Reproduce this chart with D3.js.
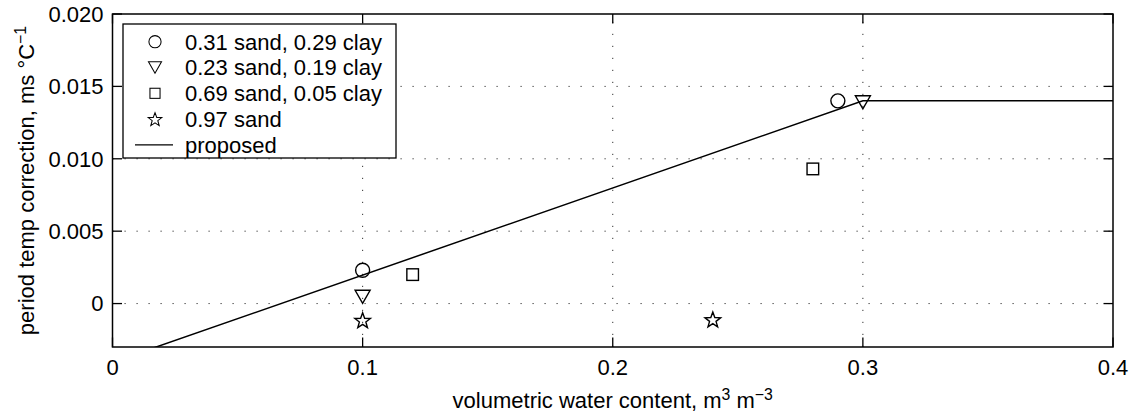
<!DOCTYPE html>
<html>
<head>
<meta charset="utf-8">
<script src="https://cdn.jsdelivr.net/npm/d3@7"></script>
<style>
  html, body { margin: 0; padding: 0; background: #fff; }
  svg { display: block; font-family: "Liberation Sans", Arial, Helvetica, sans-serif; }
</style>
</head>
<body>
<svg id="chart" width="1133" height="418"></svg>
<script>
// ---- data ----
const seriesNames = ["0.31 sand, 0.29 clay", "0.23 sand, 0.19 clay", "0.69 sand, 0.05 clay", "0.97 sand"];
const circleX = [0.10, 0.29];
const circleY = [0.0023, 0.0140];
const triangleX = [0.10, 0.30];
const triangleY = [0.00047, 0.0139];
const squareX = [0.12, 0.28];
const squareY = [0.0020, 0.0093];
const starX = [0.10, 0.24];
const starY = [-0.00115, -0.0011];
const proposedName = "proposed";
const proposedX = [0.0, 0.30, 0.40];
const proposedY = [-0.00405, 0.0140, 0.0140];
const xTicks = [0, 0.1, 0.2, 0.3, 0.4];
const xTickLabels = ["0", "0.1", "0.2", "0.3", "0.4"];
const yTicks = [0, 0.005, 0.010, 0.015, 0.020];
const yTickLabels = ["0", "0.005", "0.010", "0.015", "0.020"];

// ---- layout ----
const L = 112.5, R = 1113, T = 14, B = 347;
const svg = d3.select("#chart");
const x = d3.scaleLinear().domain([0, 0.4]).range([L, R]);
const y = d3.scaleLinear().domain([-0.003, 0.020]).range([B, T]);
const tickFont = 22, labFont = 22;

// grid (dotted)
const grid = svg.append("g");
grid.selectAll("line.gx").data(xTicks.slice(1, -1)).join("line")
  .attr("x1", d => x(d)).attr("x2", d => x(d)).attr("y1", B).attr("y2", T)
  .attr("stroke", "#333").attr("stroke-width", 1).attr("stroke-dasharray", "1.2,10.8");
grid.selectAll("line.gy").data(yTicks.slice(0, -1)).join("line")
  .attr("y1", d => y(d)).attr("y2", d => y(d)).attr("x1", L).attr("x2", R)
  .attr("stroke", "#333").attr("stroke-width", 1).attr("stroke-dasharray", "1.2,10.8");

// clip
svg.append("clipPath").attr("id", "clip").append("rect")
  .attr("x", L).attr("y", T).attr("width", R - L).attr("height", B - T);

// proposed line
const lineGen = d3.line().x(d => x(d[0])).y(d => y(d[1]));
svg.append("path").attr("clip-path", "url(#clip)")
  .datum(proposedX.map((v, i) => [v, proposedY[i]]))
  .attr("d", lineGen).attr("fill", "none").attr("stroke", "#000").attr("stroke-width", 1.5);

// marker shapes
const markers = {
  circle: (g) => g.append("circle").attr("r", 7),
  triangle: (g) => g.append("path").attr("d", "M-7.5,-6.5 L7.5,-6.5 L0,6.5 Z"),
  square: (g) => g.append("rect").attr("x", -5.8).attr("y", -5.8).attr("width", 11.6).attr("height", 11.6),
  star: (g) => {
    const pts = [];
    const ro = 8.2, ri = 3.4;
    for (let k = 0; k < 10; k++) {
      const a = -Math.PI / 2 + k * Math.PI / 5;
      const r = k % 2 === 0 ? ro : ri;
      pts.push([r * Math.cos(a), r * Math.sin(a) + 0.8]);
    }
    return g.append("path").attr("d", "M" + pts.map(p => p.join(",")).join("L") + "Z");
  }
};
const seriesDefs = [
  { name: seriesNames[0], xs: circleX, ys: circleY, m: "circle" },
  { name: seriesNames[1], xs: triangleX, ys: triangleY, m: "triangle" },
  { name: seriesNames[2], xs: squareX, ys: squareY, m: "square" },
  { name: seriesNames[3], xs: starX, ys: starY, m: "star" }
];
const mg = svg.append("g");
seriesDefs.forEach(s => {
  s.xs.forEach((xv, i) => {
    const g = mg.append("g").attr("transform", `translate(${x(xv)},${y(s.ys[i])})`);
    markers[s.m](g).attr("fill", "none").attr("stroke", "#000").attr("stroke-width", 1.4);
  });
});

// box
svg.append("rect").attr("x", L).attr("y", T).attr("width", R - L).attr("height", B - T)
  .attr("fill", "none").attr("stroke", "#000").attr("stroke-width", 1.5);

// ticks inward on all four sides
const tl = 9.5;
const tk = svg.append("g").attr("stroke", "#000").attr("stroke-width", 1.3);
xTicks.forEach(t => {
  tk.append("line").attr("x1", x(t)).attr("x2", x(t)).attr("y1", B).attr("y2", B - tl);
  tk.append("line").attr("x1", x(t)).attr("x2", x(t)).attr("y1", T).attr("y2", T + tl);
});
yTicks.forEach(t => {
  tk.append("line").attr("y1", y(t)).attr("y2", y(t)).attr("x1", L).attr("x2", L + tl);
  tk.append("line").attr("y1", y(t)).attr("y2", y(t)).attr("x1", R).attr("x2", R - tl);
});

// tick labels
svg.append("g").selectAll("text").data(xTicks).join("text")
  .attr("x", d => x(d)).attr("y", B + 27.5).attr("text-anchor", "middle")
  .attr("font-size", tickFont).text((d, i) => xTickLabels[i]);
svg.append("g").selectAll("text").data(yTicks).join("text")
  .attr("x", L - 9).attr("y", d => y(d) + 7.8).attr("text-anchor", "end")
  .attr("font-size", tickFont).text((d, i) => yTickLabels[i]);

// axis labels
const xl = svg.append("text").attr("x", (L + R) / 2).attr("y", 408).attr("text-anchor", "middle")
  .attr("font-size", labFont);
xl.append("tspan").text("volumetric water content, m");
xl.append("tspan").attr("dy", -8).attr("font-size", labFont * 0.72).text("3");
xl.append("tspan").attr("dy", 8).text(" m");
xl.append("tspan").attr("dy", -8).attr("font-size", labFont * 0.72).text("\u22123");

const yl = svg.append("text").attr("transform", `translate(33.5,${(T + B) / 2}) rotate(-90)`)
  .attr("text-anchor", "middle").attr("font-size", labFont);
yl.append("tspan").text("period temp correction, ms \u00B0C");
yl.append("tspan").attr("dy", -8).attr("font-size", labFont * 0.72).text("\u22121");

// legend
const lg = svg.append("g");
const lx = 123, ly = 24, lw = 273, lh = 134;
lg.append("rect").attr("x", lx).attr("y", ly).attr("width", lw).attr("height", lh)
  .attr("fill", "#fff").attr("stroke", "#000").attr("stroke-width", 1.3);
const rowY = i => ly + 17.7 + i * 25.8;
seriesDefs.forEach((s, i) => {
  const g = lg.append("g").attr("transform", `translate(155,${rowY(i)})`);
  markers[s.m](g).attr("fill", "none").attr("stroke", "#000").attr("stroke-width", 1.2)
    .attr("transform", "scale(0.87)");
  lg.append("text").attr("x", 185).attr("y", rowY(i) + 7.8).attr("font-size", labFont).text(s.name);
});
lg.append("line").attr("x1", 135).attr("x2", 173).attr("y1", rowY(4)).attr("y2", rowY(4))
  .attr("stroke", "#000").attr("stroke-width", 1.3);
lg.append("text").attr("x", 185).attr("y", rowY(4) + 7.8).attr("font-size", labFont).text(proposedName);
</script>
</body>
</html>
